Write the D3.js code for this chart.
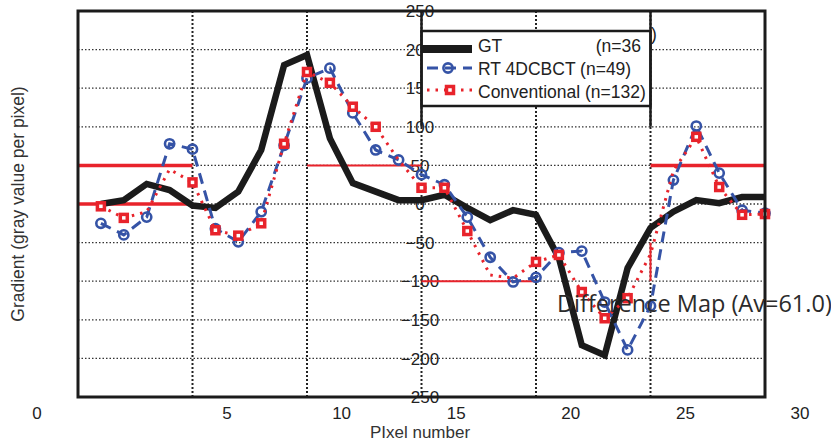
<!DOCTYPE html>
<html>
<head>
<meta charset="utf-8">
<script src="https://cdn.jsdelivr.net/npm/d3@7"></script>
<style>
  body { margin: 0; background: #fff; }
  svg { display: block; font-family: "Liberation Sans", Arial, sans-serif; }
  .tick-lbl { font-size: 17px; fill: #222; }
  .leg-lbl { font-size: 17.5px; fill: #222; }
</style>
</head>
<body>
<div id="chart"></div>
<script>
// pixel index along the profile
const pixels = [1, 2, 3, 4, 5, 6, 7, 8, 9, 10, 11, 12, 13, 14, 15,
  16, 17, 18, 19, 20, 21, 22, 23, 24, 25, 26, 27, 28, 29, 30];

// gradient values (gray value per pixel)
const gtValues = [0, 5, 26, 18, -2, -5, 16, 70, 180, 193, 85, 27, 16, 5, 5,
  12, -5, -21, -8, -14, -70, -183, -196, -83, -31, -10, 5, 1, 9, 9];
const rtValues = [-25, -40, -17, 78, 71, -32, -49, -10, 76, 163, 176, 118, 70, 57, 38,
  25, -17, -69, -101, -95, -63, -61, -127, -189, -132, 31, 101, 40, -8, -12];
const convValues = [-3, -18, -10, 45, 28, -34, -41, -25, 78, 171, 157, 126, 100, 57, 21,
  21, -35, -92, -96, -75, -66, -114, -148, -122, -65, 43, 87, 22, -14, -13];
// conventional points that carry a visible marker
const convMarked = [1, 1, 0, 0, 1, 1, 1, 1, 1, 1, 1, 1, 1, 0, 1,
  1, 1, 0, 0, 1, 1, 1, 1, 1, 0, 0, 1, 1, 1, 1];

// difference map step segments [x0, x1, y0, y1]
const diffThick = [[0, 5, 50, 50], [0, 5, 0, 0], [25, 30, 50, 50]];
const diffThin = [[10, 15, 50, 50], [15, 20, -100, -100], [25, 25, -50, -100]];

// tick labels
const xTickLabels = [0, 5, 10, 15, 20, 25, 30];
const yTickLabels = [250, 200, 150, 100, 50, 0, -50, -100, -150, -200, -250];
const xGrid = [5, 10, 15, 20, 25];
const yGrid = [200, 150, 100, 50, 0, -50, -100, -150, -200];

const legendItems = [
  {name: "GT", count: "(n=36"},
  {name: "RT 4DCBCT (n=49)", count: ""},
  {name: "Conventional (n=132)", count: ""}
];

const W = 831, H = 443;
const svg = d3.select("#chart").append("svg")
    .attr("width", W)
    .attr("height", H);

// plot area scales
const x = d3.scaleLinear().domain([0, 30]).range([78, 765]);
const y = d3.scaleLinear().domain([-250, 250]).range([397, 11]);
// the bottom labels sit on their own (offset) scale
const xLbl = d3.scaleLinear().domain([0, 5, 30]).range([37, 227, 800]);

const blue = "#3553a6";
const red = "#e8232b";

// grid
svg.append("g").selectAll("line")
    .data(yGrid)
    .enter().append("line")
    .attr("x1", x(0)).attr("x2", x(30))
    .attr("y1", (d) => y(d)).attr("y2", (d) => y(d))
    .attr("stroke", "#333")
    .attr("stroke-width", 1.3)
    .attr("stroke-dasharray", "1.5,2");
svg.append("g").selectAll("line")
    .data(xGrid)
    .enter().append("line")
    .attr("x1", (d) => x(d)).attr("x2", (d) => x(d))
    .attr("y1", y(250)).attr("y2", y(-250))
    .attr("stroke", "#222")
    .attr("stroke-width", 2)
    .attr("stroke-dasharray", "2,2");

// y tick labels, stacked on the middle grid line
svg.append("g").selectAll("text")
    .data(yTickLabels)
    .enter().append("text")
    .attr("class", "tick-lbl")
    .attr("x", x(15) - 1.5)
    .attr("y", (d) => y(d))
    .attr("dy", "0.36em")
    .attr("text-anchor", "middle")
    .text((d) => d < 0 ? "\u2212" + Math.abs(d) : d);

// difference map segments
function drawSeg(rows, w) {
  svg.append("g").selectAll("line")
      .data(rows)
      .enter().append("line")
      .attr("x1", (d) => x(d[0])).attr("x2", (d) => x(d[1]))
      .attr("y1", (d) => y(d[2])).attr("y2", (d) => y(d[3]))
      .attr("stroke", red)
      .attr("stroke-width", w);
}
drawSeg(diffThick, 3.5);
drawSeg(diffThin, 2);

const line = d3.line()
    .x((d, i) => x(pixels[i]))
    .y((d) => y(d));

// GT
svg.append("path")
    .attr("d", line(gtValues))
    .attr("fill", "none")
    .attr("stroke", "#1b1b1b")
    .attr("stroke-width", 6.5)
    .attr("stroke-linejoin", "miter");

// RT 4DCBCT
svg.append("path")
    .attr("d", line(rtValues))
    .attr("fill", "none")
    .attr("stroke", blue)
    .attr("stroke-width", 3)
    .attr("stroke-dasharray", "11,7");
svg.append("g").selectAll("circle")
    .data(rtValues)
    .enter().append("circle")
    .attr("cx", (d, i) => x(pixels[i]))
    .attr("cy", (d) => y(d))
    .attr("r", 4.6)
    .attr("fill", "none")
    .attr("stroke", blue)
    .attr("stroke-width", 2.6);

// Conventional
svg.append("path")
    .attr("d", line(convValues))
    .attr("fill", "none")
    .attr("stroke", red)
    .attr("stroke-width", 3)
    .attr("stroke-dasharray", "2.5,6");
svg.append("g").selectAll("rect")
    .data(convValues.map((v, i) => ({px: pixels[i], v: v, m: convMarked[i]}))
        .filter((d) => d.m))
    .enter().append("rect")
    .attr("x", (d) => x(d.px) - 3.5)
    .attr("y", (d) => y(d.v) - 3.5)
    .attr("width", 7).attr("height", 7)
    .attr("fill", "#fff")
    .attr("stroke", red)
    .attr("stroke-width", 3.5);

// frame
svg.append("rect")
    .attr("x", x(0)).attr("y", y(250))
    .attr("width", x(30) - x(0)).attr("height", y(-250) - y(250))
    .attr("fill", "none")
    .attr("stroke", "#1b1b1b")
    .attr("stroke-width", 3);

// legend box (covers part of the tick labels)
const lg = svg.append("g");
lg.append("rect")
    .attr("x", x(15)).attr("y", 31)
    .attr("width", x(25) - x(15)).attr("height", 75)
    .attr("fill", "#fff")
    .attr("stroke", "#1b1b1b")
    .attr("stroke-width", 2.5);
// solid stubs above the box
[15, 25].forEach(function(v) {
  lg.append("line")
      .attr("x1", x(v)).attr("x2", x(v))
      .attr("y1", y(250)).attr("y2", y(100))
      .attr("stroke", "#1b1b1b")
      .attr("stroke-width", 2.5);
});
lg.append("line")
    .attr("x1", 422).attr("x2", 472).attr("y1", 49).attr("y2", 49)
    .attr("stroke", "#1b1b1b").attr("stroke-width", 8);
lg.append("line")
    .attr("x1", 427).attr("x2", 472).attr("y1", 68).attr("y2", 68)
    .attr("stroke", blue).attr("stroke-width", 3).attr("stroke-dasharray", "11,7");
lg.append("circle")
    .attr("cx", 448).attr("cy", 68).attr("r", 4.6)
    .attr("fill", "none").attr("stroke", blue).attr("stroke-width", 2.6);
lg.append("line")
    .attr("x1", 427).attr("x2", 472).attr("y1", 90).attr("y2", 90)
    .attr("stroke", red).attr("stroke-width", 3).attr("stroke-dasharray", "2.5,6");
lg.append("rect")
    .attr("x", 446.5).attr("y", 86.5).attr("width", 7).attr("height", 7)
    .attr("fill", "#fff").attr("stroke", red).attr("stroke-width", 3.5);
lg.selectAll("text.leg-lbl")
    .data(legendItems)
    .enter().append("text")
    .attr("class", "leg-lbl")
    .attr("x", 478)
    .attr("y", (d, i) => 52 + i * 23)
    .text((d) => d.name);
lg.append("text")
    .attr("class", "leg-lbl")
    .attr("x", 641).attr("y", 52)
    .attr("text-anchor", "end")
    .text(legendItems[0].count);
lg.append("text")
    .attr("class", "leg-lbl")
    .attr("x", 651).attr("y", 40)
    .text(")");

// bottom tick labels
svg.append("g").selectAll("text")
    .data(xTickLabels)
    .enter().append("text")
    .attr("class", "tick-lbl")
    .attr("x", (d) => xLbl(d))
    .attr("y", 419)
    .attr("text-anchor", "middle")
    .text((d) => d);

// axis titles
svg.append("text")
    .attr("x", 420).attr("y", 438)
    .attr("text-anchor", "middle")
    .style("font-size", "17px")
    .style("fill", "#333")
    .text("PIxel number");
svg.append("text")
    .attr("transform", "translate(24,204) rotate(-90)")
    .attr("text-anchor", "middle")
    .style("font-size", "17.5px")
    .style("fill", "#333")
    .text("Gradient (gray value per pixel)");

// overlaid caption
svg.append("text")
    .attr("x", 557).attr("y", 312)
    .style("font-family", "'Open Sans', 'Noto Sans', sans-serif")
    .style("font-size", "23.5px")
    .style("fill", "#2b2b2b")
    .text("Difference Map (Av=61.0)");
</script>
</body>
</html>
